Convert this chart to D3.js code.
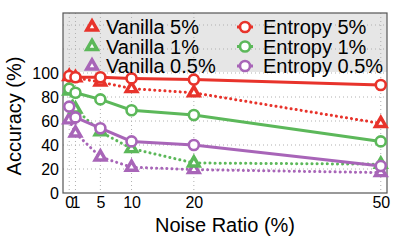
<!DOCTYPE html>
<html>
<head>
  <meta charset="utf-8">
  <script src="https://d3js.org/d3.v7.min.js"></script>
  <style>
    body { margin: 0; background: #fff; }
    text { font-family: "Liberation Sans", Arial, sans-serif; fill: #000; }
  </style>
</head>
<body>
<script>
  // noise ratios (%)
  var noise = [0, 1, 5, 10, 20, 50];
  var yTicks = [0, 20, 40, 60, 80, 100];

  var vanilla5 = [97, 96, 92.5, 87, 83.5, 58];
  var vanilla1 = [85, 70, 51, 37, 25, 24];
  var vanilla05 = [61, 50, 30, 21.5, 19.5, 17];
  var entropy5 = [97.5, 96.5, 96.5, 95.5, 94.5, 90];
  var entropy1 = [87, 83.5, 78, 69, 65, 43];
  var entropy05 = [72, 63, 54, 43, 40, 22.5];

  var red = "#e8332b", green = "#5cb85a", purple = "#a865b8";

  var series = [
    { name: "Vanilla 5%", values: vanilla5, color: red, kind: "vanilla" },
    { name: "Vanilla 1%", values: vanilla1, color: green, kind: "vanilla" },
    { name: "Vanilla 0.5%", values: vanilla05, color: purple, kind: "vanilla" },
    { name: "Entropy 5%", values: entropy5, color: red, kind: "entropy" },
    { name: "Entropy 1%", values: entropy1, color: green, kind: "entropy" },
    { name: "Entropy 0.5%", values: entropy05, color: purple, kind: "entropy" }
  ];

  var W = 407, H = 244;
  var pL = 63, pR = 387, pT = 13, pB = 193;

  var svg = d3.select("body").append("svg")
    .attr("width", W).attr("height", H);

  var x = d3.scaleLinear().domain([-1, 51]).range([pL, pR]);
  var y = d3.scaleLinear().domain([0, 150]).range([pB, pT]);

  // legend background
  svg.append("rect")
    .attr("x", pL).attr("y", pT)
    .attr("width", pR - pL).attr("height", y(100) - pT - 1)
    .attr("fill", "#e6e6e6");

  // grid
  svg.append("g").selectAll("line").data(noise).enter().append("line")
    .attr("x1", function (d) { return x(d); }).attr("x2", function (d) { return x(d); })
    .attr("y1", pT).attr("y2", pB)
    .attr("stroke", "#b0b0b0").attr("stroke-width", 1).attr("stroke-dasharray", "1,3");
  svg.append("g").selectAll("line").data([20, 40, 60, 80, 100, 120, 140]).enter().append("line")
    .attr("x1", pL).attr("x2", pR)
    .attr("y1", function (d) { return y(d); }).attr("y2", function (d) { return y(d); })
    .attr("stroke", "#b0b0b0").attr("stroke-width", 1).attr("stroke-dasharray", "1,3");

  // frame
  svg.append("rect")
    .attr("x", pL).attr("y", pT)
    .attr("width", pR - pL).attr("height", pB - pT)
    .attr("fill", "none").attr("stroke", "#555").attr("stroke-width", 1.2);

  // axes
  var yAxis = svg.append("g").attr("transform", "translate(" + pL + ",0)")
    .call(d3.axisLeft(y).tickValues(yTicks).tickSize(0).tickPadding(4));
  yAxis.select(".domain").remove();
  yAxis.selectAll("text").style("font-size", "16px").attr("font-family", null);

  var xAxis = svg.append("g").attr("transform", "translate(0," + pB + ")")
    .call(d3.axisBottom(x).tickValues(noise).tickFormat(d3.format("d")).tickSize(0).tickPadding(4));
  xAxis.select(".domain").remove();
  xAxis.selectAll("text").style("font-size", "16px").attr("font-family", null);

  svg.append("text")
    .attr("x", (pL + pR) / 2).attr("y", 232)
    .attr("text-anchor", "middle").style("font-size", "20px")
    .text("Noise Ratio (%)");
  svg.append("text")
    .attr("transform", "translate(21,116) rotate(-90)")
    .attr("text-anchor", "middle").style("font-size", "20px")
    .text("Accuracy (%)");

  var line = d3.line()
    .x(function (d, i) { return x(noise[i]); })
    .y(function (d) { return y(d); });

  var tri = d3.symbol().type(d3.symbolTriangle).size(48);

  function drawTri(g, cx, cy, color) {
    g.append("path").attr("d", tri)
      .attr("transform", "translate(" + cx + "," + cy + ")")
      .attr("fill", "#fff").attr("stroke", color).attr("stroke-width", 3.4)
      .attr("stroke-linejoin", "miter");
  }
  function drawCirc(g, cx, cy, color) {
    g.append("circle").attr("cx", cx).attr("cy", cy).attr("r", 5)
      .attr("fill", "#fff").attr("stroke", color).attr("stroke-width", 2.6);
  }

  // draw vanilla first, then entropy on top
  var order = [2, 1, 0, 5, 4, 3];
  order.forEach(function (k) {
    var s = series[k];
    var g = svg.append("g");
    g.append("path").datum(s.values)
      .attr("d", line).attr("fill", "none").attr("stroke", s.color)
      .attr("stroke-width", 3)
      .attr("stroke-linecap", "round")
      .attr("stroke-dasharray", s.kind === "vanilla" ? "0.1,5" : null);
    s.values.forEach(function (v, i) {
      if (s.kind === "vanilla") drawTri(g, x(noise[i]), y(v), s.color);
      else drawCirc(g, x(noise[i]), y(v), s.color);
    });
  });

  // legend
  var leg = svg.append("g");
  series.forEach(function (s, i) {
    var col = s.kind === "vanilla" ? 0 : 1;
    var row = i % 3;
    var cy = 27 + row * 19.5;
    var mx = col === 0 ? 92 : 245;
    if (s.kind === "vanilla") {
      drawTri(leg, mx, cy, s.color);
    } else {
      leg.append("line").attr("x1", mx - 8).attr("x2", mx + 8)
        .attr("y1", cy).attr("y2", cy)
        .attr("stroke", s.color).attr("stroke-width", 3);
      drawCirc(leg, mx, cy, s.color);
    }
    leg.append("text")
      .attr("x", col === 0 ? 106 : 263).attr("y", cy + 7)
      .style("font-size", "20px")
      .text(s.name);
  });
</script>
</body>
</html>
